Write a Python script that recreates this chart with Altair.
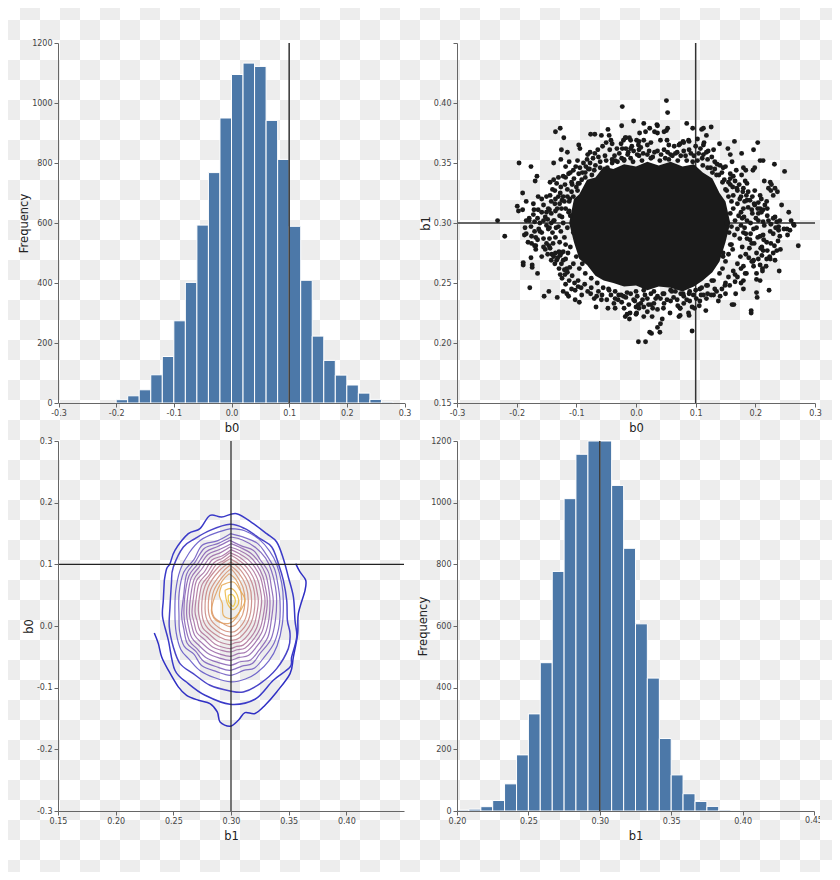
import altair as alt
import pandas as pd

alt.data_transformers.disable_max_rows()

# histogram b0
hist0_lo = [-0.20,-0.18,-0.16,-0.14,-0.12,-0.10,-0.08,-0.06,-0.04,-0.02,0.00,0.02,0.04,0.06,0.08,0.10,0.12,0.14,0.16,0.18,0.20,0.22,0.24,0.26]
hist0_hi = [-0.18,-0.16,-0.14,-0.12,-0.10,-0.08,-0.06,-0.04,-0.02,0.00,0.02,0.04,0.06,0.08,0.10,0.12,0.14,0.16,0.18,0.20,0.22,0.24,0.26,0.28]
hist0_n = [11,24,44,94,155,274,402,593,768,950,1095,1133,1122,942,812,589,409,223,142,93,60,33,12,3]

# histogram b1
hist1_lo = [0.2000,0.2083,0.2167,0.2250,0.2333,0.2417,0.2500,0.2583,0.2667,0.2750,0.2833,0.2917,0.3000,0.3083,0.3167,0.3250,0.3333,0.3417,0.3500,0.3583,0.3667,0.3750,0.3833,0.3917]
hist1_hi = [0.2083,0.2167,0.2250,0.2333,0.2417,0.2500,0.2583,0.2667,0.2750,0.2833,0.2917,0.3000,0.3083,0.3167,0.3250,0.3333,0.3417,0.3500,0.3583,0.3667,0.3750,0.3833,0.3917,0.4000]
hist1_n = [3,6,14,34,88,182,315,481,777,1013,1157,1200,1200,1056,852,607,431,235,117,56,31,15,3,1]

# scatter, readable points around the dense core (b0, b1)
scatter_b0 = [
-.232,-.135,-.127,-.121,-.076,-.069,-.058,-.047,-.024,-.045,-.042,-.050,-.096,-.094,-.125,-.115,-.126,-.098,-.138,-.112,-.118,-.196,-.176,-.166,-.169,-.144,-.138,-.130,-.122,-.113,-.105,-.094,-.084,-.077,-.081,-.077,-.069,-.063,-.190,-.184,-.199,-.190,-.197,-.171,-.164,-.158,-.144,-.136,-.127,-.119,-.108,-.097,-.179,-.179,-.172,-.158,-.152,-.145,-.136,-.124,-.111,-.161,-.150,-.138,-.124,-.113,-.035,-.024,-.013,-.007,-.018,-.011,.001,.004,-.021,
.085,.095,.110,.113,.126,.118,.103,.114,.113,.088,.079,.074,.140,.165,.204,.154,.158,.177,.197,.161,.208,.213,.232,.249,.168,.180,.184,.196,.199,.215,.225,.227,.233,.237,.222,.226,.230,.244,.256,.260,.264,.219,.208,.210,.199,.186,.183,.177,.163,.158,.146,.141,.132,.127,.121,.130,.118,.113,.188,.180,.169,.158,.208,.199,.220,.213,.205,.233,.236,.222,.241,.253,.239,.213,.194,.186,.174,.163,.152,
-.220,-.184,-.187,-.175,-.168,-.181,-.175,-.168,-.168,-.161,-.155,-.152,-.146,-.144,-.158,-.176,-.141,-.138,-.133,-.189,-.189,-.174,-.174,-.165,-.178,-.154,-.146,-.132,-.129,-.127,-.122,-.136,-.116,-.119,-.127,-.124,-.118,-.122,-.116,-.113,-.108,-.102,-.097,-.091,-.102,-.095,-.076,-.067,-.066,-.057,-.046,-.047,-.035,-.035,-.020,-.015,-.018,-.011,-.010,.001,.004,-.004,-.021,-.029,-.049,
.272,.240,.212,.223,.167,.180,.202,.203,.161,.164,.193,.193,.117,.094,.094,.088,.089,.074,.074,.107,.109,.120,.138,.118,.130,.132,.149,.166,.180,.202,.208,.202,.185,.197,.194,.180,.166,.155,.233,.225,.219,.236,.230,.213,.211,.205,.197,.241,.254,.248,.258,.230,.225,.213,.208,.202,.265,.239,.191,.194,.219,.211,.160,.146,.146,.127,.118,.107,.085,.096,.079,
.051,.053,-.023,-.004,.013,.035,.036,.023,.053,.047,.051,.006,.016,.031,.036,.041,.052,.055,.025,.013,.005,-.009,-.017,-.023,-.009,.005,.019,.036,.047,.064,.072,.080,.089,.066,.080,.089,.058,.019,.005,-.009,-.020,-.031,-.040,
.004,.016,.023,.026,.036,.040,.041,.044,.057,.072,.074,.013,.019,.025,.030,.036,.008,.047,.058,.069,.036,.019,.000,.013,.027,.000,.025,.047,.066,.080,.089,.041,.058,.013,-.009,.002,
-.155,-.150,-.147,-.142,-.140,-.135,-.133,-.128,-.126,-.122,-.118,-.115,-.112,-.110,-.107,-.104,-.101,-.098,-.096,-.091,-.088,-.085,-.082,-.078,-.074,-.072,-.068,-.064,-.060,-.056,-.052,-.048,-.044,-.040,-.036,-.032,-.028,-.025,-.017,-.014,
-.004,.002,.008,.012,.022,.028,.031,.042,.049,.053,.061,.069,.075,.083,.092,.097,.100,.105,.108,.111,
.120,.125,.132,.136,.139,.144,.148,.150,.155,.158,.162,.166,.170,.173,.176,.179,.182,.185,.188,.191,.195,.198,.201,.204,.170,.176,.181,.186,.192,.197,.205,.210,.215,.220,.226,.230,.234,.195,.205,.216,
.180,.186,.192,.198,.204,.209,.214,.220,.226,.232,.238,.242,.178,.184,.190,.196,.202,.208,.212,.218,.224,.175,.170,.176,.183,.189,.163,.170,.176,.150,.157,.144,.150,.135,.141,.126,.113,.101,.090,.080,.098,.106,
.070,.063,.052,.046,.033,.028,.021,.011,.005,-.002,-.012,-.017,-.024,-.030,-.037,-.042,
-.058,-.063,-.070,-.075,-.081,-.086,-.092,-.097,-.103,-.107,-.112,-.115,-.120,-.111,-.125,-.129,-.131,-.135,-.125,-.118,-.142,-.148,-.139,-.145,-.150,-.155,-.135,-.128,-.140,-.147,-.158,-.165,-.170,-.163,-.170,-.176,-.155,-.148,-.165,-.170,-.142,-.150,-.184,-.186,-.164,-.172,
-.105,-.110,-.115,-.118,-.120,-.122,-.126,-.128,-.130,-.132,-.110,-.114,-.118,-.122,-.128,-.134,-.137,-.142,-.145,-.105,-.108,-.112,-.115,-.120,-.125,-.130,-.135,-.100,-.095,-.090,-.085,-.080,-.070,-.060,-.050,-.040,-.100,-.105,-.095,-.090,-.085,-.075,-.065,-.055,-.045,-.035,-.025,-.015,
.152,.156,.158,.160,.163,.165,.166,.170,.172,.174,.176,.178,.180,.182,.184,.160,.155,.150,.145,.158,.162,.155,.150,.145,.140,.130,.120,.110,.135,.128,.120,.112,.103,.095,.085,.070,.055,.040,.025,.010,-.005,-.020,.000,.015,.030,.045,.060,.075,.090,.100,
]
scatter_b1 = [
.302,.376,.379,.371,.374,.374,.373,.378,.381,.373,.369,.367,.365,.362,.361,.359,.353,.352,.350,.351,.347,.350,.347,.339,.335,.334,.336,.338,.339,.341,.344,.346,.347,.350,.357,.359,.358,.355,.325,.318,.314,.311,.310,.311,.322,.320,.323,.327,.325,.332,.334,.333,.304,.302,.307,.309,.305,.311,.316,.319,.320,.300,.298,.302,.305,.309,.352,.354,.359,.364,.371,.371,.369,.365,.369,
.383,.379,.378,.379,.380,.373,.370,.367,.365,.369,.368,.366,.366,.368,.367,.362,.357,.358,.361,.351,.352,.352,.349,.343,.344,.346,.344,.344,.346,.335,.334,.332,.329,.326,.329,.327,.323,.315,.309,.302,.299,.318,.323,.320,.327,.333,.335,.340,.339,.341,.346,.348,.351,.355,.360,.361,.359,.357,.326,.329,.329,.332,.312,.315,.312,.311,.308,.305,.301,.302,.302,.295,.297,.301,.311,.319,.320,.323,.327,
.289,.291,.290,.289,.288,.284,.283,.281,.278,.293,.287,.278,.281,.279,.272,.271,.274,.272,.269,.267,.265,.265,.263,.258,.246,.239,.243,.238,.276,.273,.269,.266,.262,.257,.257,.254,.249,.243,.241,.239,.245,.244,.247,.240,.236,.234,.241,.230,.239,.240,.245,.229,.229,.237,.229,.224,.222,.220,.225,.225,.232,.236,.239,.240,.236,
.281,.260,.260,.244,.241,.245,.242,.238,.232,.232,.227,.225,.227,.210,.230,.225,.223,.229,.223,.235,.240,.241,.235,.237,.240,.245,.248,.251,.252,.253,.252,.258,.258,.264,.268,.264,.257,.255,.269,.270,.270,.277,.275,.277,.273,.270,.269,.289,.290,.295,.294,.291,.293,.290,.289,.296,.298,.294,.286,.283,.284,.280,.282,.275,.272,.252,.248,.245,.236,.240,.241,
.402,.392,.397,.385,.383,.382,.381,.379,.379,.376,.377,.375,.376,.376,.375,.369,.369,.365,.367,.369,.368,.369,.371,.362,.362,.361,.365,.360,.361,.364,.365,.367,.368,.358,.360,.361,.357,.357,.356,.354,.353,.351,.353,
.201,.201,.209,.208,.213,.209,.216,.220,.225,.222,.229,.230,.226,.232,.233,.228,.233,.233,.235,.236,.239,.237,.224,.222,.222,.230,.241,.241,.243,.239,.241,.237,.244,.244,.241,.239,
.315,.322,.312,.318,.328,.320,.333,.316,.330,.322,.338,.328,.318,.342,.332,.337,.347,.327,.341,.336,.350,.342,.353,.345,.340,.354,.348,.361,.351,.364,.356,.346,.361,.366,.356,.362,.358,.366,.362,.357,
.360,.357,.363,.358,.360,.355,.359,.357,.354,.359,.356,.359,.356,.356,.358,.356,.364,.358,.362,.354,
.353,.346,.345,.349,.340,.342,.336,.347,.334,.337,.330,.335,.327,.332,.322,.326,.318,.323,.313,.319,.308,.316,.304,.312,.316,.309,.305,.302,.300,.295,.302,.309,.298,.306,.299,.304,.296,.322,.317,.315,
.292,.287,.291,.283,.288,.279,.286,.277,.283,.281,.285,.278,.280,.274,.279,.268,.275,.265,.262,.264,.272,.272,.266,.262,.258,.271,.260,.255,.250,.250,.248,.245,.241,.243,.239,.240,.240,.237,.235,.233,.229,.231,
.231,.238,.236,.229,.237,.229,.232,.236,.229,.235,.232,.238,.234,.236,.233,.240,
.236,.243,.237,.246,.243,.249,.246,.252,.250,.256,.252,.259,.261,.263,.266,.262,.271,.275,.275,.270,.269,.274,.283,.287,.283,.280,.288,.284,.292,.295,.292,.286,.281,.295,.293,.297,.302,.303,.304,.301,.308,.309,.302,.296,.311,.316,
.292,.306,.296,.312,.288,.300,.293,.306,.297,.312,.280,.275,.282,.276,.275,.296,.302,.300,.296,.322,.326,.310,.322,.318,.312,.322,.310,.330,.333,.342,.338,.345,.344,.346,.352,.350,.272,.266,.262,.266,.258,.254,.250,.246,.244,.243,.240,.242,
.300,.292,.308,.297,.312,.290,.302,.295,.306,.287,.298,.304,.312,.296,.291,.318,.322,.328,.334,.282,.278,.274,.268,.262,.258,.252,.248,.246,.340,.342,.346,.348,.352,.351,.352,.352,.353,.352,.354,.352,.351,.352,.243,.240,.243,.241,.243,.241,.243,.244,
]

# outline of the solid black core of the scatter
core_b0 = [-.112,-.104,-.095,-.082,-.068,-.054,-.038,-.020,.000,.019,.038,.058,.078,.097,.112,.128,.140,.150,.158]
core_hi = [.300,.320,.324,.336,.338,.347,.345,.349,.347,.351,.348,.351,.347,.349,.342,.337,.325,.318,.300]
core_lo = [.300,.284,.270,.265,.256,.252,.250,.247,.248,.244,.247,.246,.243,.247,.252,.259,.268,.284,.300]

# contour lines (b1, b0), outermost first
c01_x = [.2335,.2370,.2399,.2457,.2543,.2615,.2717,.2818,.2881,.2905,.2991,.3064,.3121,.3208,.3295,.3396,.3512,.3541,.3578,.3584,.3642,.3648,.3598,.3561]
c01_y = [-.0113,-.0286,-.0502,-.0718,-.0988,-.1123,-.1204,-.1258,-.1393,-.1555,-.1626,-.1528,-.1404,-.1420,-.1285,-.1069,-.0772,-.0502,-.0124,.0200,.0579,.0741,.0876,.1011]
c02_x = [.2422,.2442,.2471,.2514,.2630,.2731,.2818,.2919,.3049,.3194,.3309,.3396,.3454,.3497,.3541,.3555,.3570,.3526,.3512,.3367,.3208,.2991,.2775,.2630,.2514,.2457,.2407,.2413,.2422]
c02_y = [.0741,.0930,.1011,.1227,.1497,.1578,.1794,.1767,.1821,.1659,.1497,.1362,.1092,.0795,.0471,.0092,-.0178,-.0502,-.0664,-.0880,-.1188,-.1269,-.1123,-.0934,-.0718,-.0232,.0146,.0417,.0741]
c03_x = [.2485,.2500,.2587,.2688,.2818,.2991,.3121,.3252,.3353,.3411,.3454,.3483,.3489,.3512,.3497,.3396,.3252,.3107,.2991,.2818,.2673,.2558,.2500,.2465,.2471,.2485]
c03_y = [.0741,.0957,.1281,.1416,.1551,.1648,.1578,.1416,.1281,.1011,.0741,.0417,.0092,-.0124,-.0367,-.0691,-.0934,-.1069,-.1053,-.0961,-.0772,-.0610,-.0340,-.0016,.0308,.0741]
c04_x = [.3000,.3118,.3245,.3335,.3395,.3440,.3454,.3445,.3400,.3330,.3230,.3125,.3000,.2860,.2730,.2640,.2565,.2525,.2514,.2520,.2560,.2635,.2735,.2870,.3000]
c04_y = [.1578,.1545,.1405,.1215,.1005,.0690,.0400,.0030,-.0320,-.0560,-.0750,-.0860,-.0907,-.0840,-.0720,-.0545,-.0380,-.0110,.0170,.0560,.0910,.1180,.1390,.1510,.1578]
c05_x = [.2995,.3125,.3230,.3295,.3375,.3405,.3425,.3420,.3375,.3290,.3205,.3110,.2995,.2875,.2745,.2680,.2595,.2555,.2549,.2550,.2590,.2680,.2750,.2880,.2995]
c05_y = [.1497,.1430,.1340,.1190,.0935,.0690,.0400,.0040,-.0270,-.0500,-.0680,-.0720,-.0799,-.0740,-.0640,-.0460,-.0330,-.0090,.0170,.0530,.0870,.1080,.1310,.1380,.1497]
c06_x = [.3000,.3100,.3215,.3300,.3350,.3385,.3396,.3385,.3345,.3250,.3185,.3095,.2990,.2890,.2765,.2695,.2620,.2590,.2572,.2590,.2615,.2690,.2770,.2890,.3000]
c06_y = [.1443,.1395,.1270,.1100,.0900,.0640,.0410,.0090,-.0220,-.0450,-.0610,-.0650,-.0718,-.0670,-.0575,-.0410,-.0280,-.0040,.0180,.0500,.0840,.1040,.1260,.1340,.1443]
c07_x = [.2990,.3090,.3195,.3255,.3325,.3350,.3367,.3350,.3320,.3240,.3170,.3080,.2995,.2885,.2785,.2700,.2640,.2605,.2592,.2600,.2635,.2705,.2785,.2885,.2990]
c07_y = [.1389,.1300,.1225,.1070,.0870,.0630,.0400,.0100,-.0180,-.0400,-.0550,-.0580,-.0637,-.0590,-.0515,-.0360,-.0240,-.0010,.0190,.0490,.0810,.0990,.1205,.1290,.1389]
c08_x = [.3000,.3085,.3175,.3245,.3300,.3325,.3338,.3330,.3295,.3220,.3150,.3070,.2990,.2900,.2805,.2725,.2660,.2630,.2615,.2625,.2655,.2725,.2800,.2900,.3000]
c08_y = [.1335,.1270,.1175,.1030,.0840,.0630,.0410,.0130,-.0130,-.0340,-.0480,-.0510,-.0556,-.0520,-.0450,-.0320,-.0190,.0010,.0200,.0490,.0780,.0960,.1160,.1240,.1335]
c09_x = [.2990,.3075,.3160,.3225,.3275,.3300,.3315,.3300,.3270,.3205,.3130,.3065,.2995,.2910,.2825,.2745,.2685,.2655,.2639,.2650,.2680,.2745,.2820,.2910,.2990]
c09_y = [.1281,.1225,.1130,.0990,.0810,.0610,.0400,.0140,-.0090,-.0280,-.0420,-.0445,-.0491,-.0460,-.0395,-.0270,-.0150,.0040,.0210,.0480,.0755,.0920,.1115,.1190,.1281]
c10_x = [.3000,.3070,.3145,.3205,.3255,.3280,.3295,.3280,.3250,.3190,.3120,.3055,.2990,.2920,.2840,.2770,.2705,.2680,.2662,.2675,.2700,.2770,.2835,.2925,.3000]
c10_y = [.1238,.1175,.1085,.0960,.0790,.0600,.0410,.0170,-.0050,-.0230,-.0360,-.0385,-.0421,-.0395,-.0340,-.0220,-.0110,.0060,.0220,.0470,.0730,.0880,.1070,.1140,.1238]
c11_x = [.2990,.3060,.3125,.3185,.3230,.3255,.3266,.3250,.3225,.3170,.3105,.3050,.2995,.2930,.2860,.2790,.2730,.2705,.2688,.2700,.2725,.2790,.2855,.2925,.2990]
c11_y = [.1189,.1130,.1040,.0920,.0760,.0580,.0400,.0180,-.0015,-.0190,-.0310,-.0330,-.0367,-.0345,-.0290,-.0175,-.0070,.0090,.0235,.0470,.0700,.0850,.1030,.1100,.1189]
c12_x = [.3000,.3055,.3110,.3165,.3205,.3225,.3237,.3225,.3200,.3150,.3090,.3040,.2990,.2935,.2875,.2810,.2755,.2730,.2717,.2725,.2750,.2810,.2870,.2935,.3000]
c12_y = [.1146,.1085,.1005,.0880,.0735,.0565,.0405,.0210,.0015,-.0140,-.0250,-.0270,-.0302,-.0280,-.0235,-.0130,-.0030,.0110,.0250,.0460,.0675,.0820,.0990,.1060,.1146]
c13_x = [.2990,.3095,.3180,.3208,.3175,.3075,.2995,.2895,.2780,.2746,.2775,.2885,.2990]
c13_y = [.1092,.0960,.0710,.0400,.0055,-.0190,-.0232,-.0175,.0010,.0265,.0650,.0945,.1092]
c14_x = [.3000,.3080,.3155,.3179,.3150,.3060,.2990,.2905,.2805,.2775,.2800,.2900,.3000]
c14_y = [.1038,.0915,.0680,.0410,.0090,-.0130,-.0167,-.0115,.0050,.0280,.0625,.0900,.1038]
c15_x = [.2990,.3065,.3130,.3150,.3125,.3050,.2995,.2920,.2830,.2803,.2825,.2915,.2990]
c15_y = [.0984,.0865,.0650,.0400,.0120,-.0070,-.0097,-.0055,.0090,.0290,.0595,.0850,.0984]
c16_x = [.3000,.3050,.3105,.3121,.3100,.3040,.2990,.2935,.2855,.2832,.2850,.2930,.3000]
c16_y = [.0930,.0815,.0620,.0405,.0180,.0020,-.0011,.0035,.0140,.0310,.0570,.0805,.0930]
c17_x = [.2985,.3040,.3080,.3093,.3075,.3020,.2975,.2900,.2850,.2830,.2860,.2920,.2985]
c17_y = [.0849,.0760,.0600,.0420,.0230,.0080,.0040,.0060,.0130,.0250,.0480,.0720,.0849]
c18_x = [.2919,.3020,.3078,.3121,.3064,.3006,.2934,.2925,.2899,.2919]
c18_y = [.0660,.0714,.0579,.0417,.0200,.0119,.0173,.0362,.0498,.0660]
c19_x = [.2948,.3006,.3055,.3064,.3020,.2977,.2957,.2948]
c19_y = [.0579,.0606,.0498,.0362,.0265,.0335,.0444,.0579]
c20_x = [.2977,.3014,.3038,.3020,.2991,.2977,.2977]
c20_y = [.0498,.0508,.0417,.0320,.0362,.0417,.0498]

contour_x = [c01_x,c02_x,c03_x,c04_x,c05_x,c06_x,c07_x,c08_x,c09_x,c10_x,c11_x,c12_x,c13_x,c14_x,c15_x,c16_x,c17_x,c18_x,c19_x,c20_x]
contour_y = [c01_y,c02_y,c03_y,c04_y,c05_y,c06_y,c07_y,c08_y,c09_y,c10_y,c11_y,c12_y,c13_y,c14_y,c15_y,c16_y,c17_y,c18_y,c19_y,c20_y]
contour_colors = ["#2f2fc4","#3a3ac8","#4a45c8","#5a4fc4","#6a55bf","#7658b9","#825cb3","#8d60ad","#9865a6","#a26aa0","#ac6f98","#b67590","#bf7c88","#c8837e","#d08a74","#d8926a","#df9c5e","#e6a850","#ecb640","#efc430"]

# tick labels
ticks_b0 = [-0.3,-0.2,-0.1,0.0,0.1,0.2,0.3]
ticks_freq = [0,200,400,600,800,1000,1200]
ticks_b1_v = [0.15,0.20,0.25,0.30,0.35,0.40,0.45]
ticks_b1_v_lab = [0.15,0.20,0.25,0.30,0.35,0.40]
ticks_b1_h = [0.20,0.25,0.30,0.35,0.40,0.45]

W, H = 824, 864
INK, LABEL, TITLE = "#666666", "#444444", "#222222"
BAR = "#4c78a8"
FONT = "DejaVu Sans"

def axis(title, orient, offset, values, fmt, hide=None, title_pad=None):
    expr = "replace(datum.label,'\u2212','-')"
    if hide is not None:
        expr = "(" + " || ".join(f"abs(datum.value-{h})<0.001" for h in hide) + ") ? '' : " + expr
    kw = dict(title=title, orient=orient, offset=offset, values=values, format=fmt, grid=False,
              zindex=1, labelExpr=expr, labelFont=FONT, labelFontSize=8, labelColor=LABEL,
              titleFont=FONT, titleFontSize=11.5, titleFontWeight="normal", titleColor=TITLE,
              domainColor=INK, tickColor=INK, domainWidth=1, tickWidth=1, tickSize=4,
              labelPadding=2, labelOverlap=False, labelFlush=False, labelBound=False)
    if title_pad is not None:
        kw["titlePadding"] = title_pad
    return alt.Axis(**kw)

def sx(dom, rng):
    return alt.Scale(domain=dom, range=rng, nice=False, zero=False)

# panel geometry: plot-area ranges in the single canvas
P1X, P1Y = sx([-0.3,0.3],[50.5,396.5]), sx([0,1200],[395,35])
P2X, P2Y = sx([-0.3,0.3],[449,807]), sx([0.15,0.45],[395,35])
P3X, P3Y = sx([0.15,0.45],[50,396]), sx([-0.3,0.3],[803,433])
P4X, P4Y = sx([0.20,0.45],[449,806]), sx([0,1200],[803,433])

one = pd.DataFrame({"a":[0]})

def vrule(val, xs, ys, d0, d1, color="#333333", w=1.5):
    return alt.Chart(one).mark_rule(color=color, strokeWidth=w).encode(
        x=alt.X(datum=val, scale=xs, axis=None),
        y=alt.Y(datum=d0, scale=ys, axis=None), y2=alt.Y2(datum=d1))

def hrule(val, xs, ys, d0, d1, color="#333333", w=1.5):
    return alt.Chart(one).mark_rule(color=color, strokeWidth=w).encode(
        y=alt.Y(datum=val, scale=ys, axis=None),
        x=alt.X(datum=d0, scale=xs, axis=None), x2=alt.X2(datum=d1))

# checker backdrop
cols, rows = 42, 44
cells = pd.DataFrame([{"c":c,"c2":c+1,"r":r,"r2":r+1} for c in range(cols) for r in range(rows) if (c+r)%2==1])
CX = sx([0,cols],[-8,832])
CY = sx([0,rows],[-8,872])
def checker(df, color):
    return alt.Chart(df).mark_rect(color=color, strokeWidth=0).encode(
        x=alt.X("c:Q", scale=CX, axis=None), x2="c2:Q",
        y=alt.Y("r:Q", scale=CY, axis=None), y2="r2:Q")
back = checker(cells, "#ededed")

# panel 1
d1 = pd.DataFrame({"lo":hist0_lo,"hi":hist0_hi,"n":hist0_n})
p1 = alt.Chart(d1).mark_rect(color=BAR, stroke="#ffffff", strokeWidth=1).encode(
    x=alt.X("lo:Q", scale=P1X, axis=axis("b0","bottom",395-H,ticks_b0,".1f",title_pad=5)),
    x2="hi:Q",
    y=alt.Y("n:Q", scale=P1Y, axis=axis("Frequency","left",-50,ticks_freq,"d",title_pad=2)),
    y2=alt.Y2(datum=0))
r1 = vrule(0.1, P1X, P1Y, 0, 1200)

# panel 2
d2 = pd.DataFrame({"b0":scatter_b0,"b1":scatter_b1})
dc = pd.DataFrame({"b0":core_b0,"hi":core_hi,"lo":core_lo})
r2a = vrule(0.1, P2X, P2Y, 0.15, 0.45)
r2b = hrule(0.30, P2X, P2Y, -0.3, 0.3)
p2 = alt.Chart(d2).mark_circle(color="#1a1a1a", opacity=1, size=24).encode(
    x=alt.X("b0:Q", scale=P2X, axis=axis("b0","bottom",395-H,ticks_b0,".1f",title_pad=5)),
    y=alt.Y("b1:Q", scale=P2Y, axis=axis("b1","left",-449,ticks_b1_v,".2f",hide=[0.45],title_pad=2)))
core = alt.Chart(dc).mark_area(color="#1a1a1a", interpolate="linear").encode(
    x=alt.X("b0:Q", scale=P2X, axis=None),
    y=alt.Y("hi:Q", scale=P2Y, axis=None), y2="lo:Q")

# panel 3
recs = []
for lv,(xs,ys) in enumerate(zip(contour_x,contour_y)):
    for i,(a,b) in enumerate(zip(xs,ys)):
        recs.append({"b1":a,"b0":b,"lev":lv,"i":i})
d3 = pd.DataFrame(recs)
colr = alt.Color("lev:O", scale=alt.Scale(domain=list(range(len(contour_colors))), range=contour_colors), legend=None)
p3a = alt.Chart(d3[d3.lev<3]).mark_line(strokeWidth=1.5, interpolate="cardinal").encode(
    x=alt.X("b1:Q", scale=P3X, axis=axis("b1","bottom",803-H,ticks_b1_v_lab,".2f",title_pad=5)),
    y=alt.Y("b0:Q", scale=P3Y, axis=axis("b0","left",-50,ticks_b0,".1f",title_pad=2)),
    color=colr, order="i:Q")
p3b = alt.Chart(d3[d3.lev>=3]).mark_line(strokeWidth=1.2, opacity=0.85, interpolate="cardinal").encode(
    x=alt.X("b1:Q", scale=P3X, axis=None), y=alt.Y("b0:Q", scale=P3Y, axis=None),
    color=colr, order="i:Q")
r3a = vrule(0.30, P3X, P3Y, -0.3, 0.3, color="#222222", w=1.2)
r3b = hrule(0.1, P3X, P3Y, 0.15, 0.45, color="#222222", w=1.2)

# panel 4
d4 = pd.DataFrame({"lo":hist1_lo,"hi":hist1_hi,"n":hist1_n})
p4 = alt.Chart(d4).mark_rect(color=BAR, stroke="#ffffff", strokeWidth=1).encode(
    x=alt.X("lo:Q", scale=P4X, axis=axis("b1","bottom",803-H,ticks_b1_h,".2f",hide=[0.45],title_pad=5)),
    x2="hi:Q",
    y=alt.Y("n:Q", scale=P4Y, axis=axis("Frequency","left",-449,ticks_freq,"d",title_pad=2)),
    y2=alt.Y2(datum=0))
r4 = vrule(0.30, P4X, P4Y, 0, 1200)

# the last tick label runs off the picture's edge
last_label = alt.Chart(pd.DataFrame({"t":["0.45"]})).mark_text(fontSize=8, font=FONT, color=LABEL, baseline="top", align="center").encode(
    x=alt.X(datum=0.45, scale=P4X, axis=None), y=alt.value(809), text="t:N")
cover_g = checker(pd.DataFrame({"c":[41],"c2":[42],"r":[40],"r2":[41]}), "#ededed")
cover_w = checker(pd.DataFrame({"c":[41],"c2":[42],"r":[41],"r2":[42]}), "#ffffff")

chart = alt.layer(back, p1, r1, r2a, r2b, core, p2, p3a, p3b, r3a, r3b, p4, r4, last_label, cover_g, cover_w).resolve_scale(
    x="independent", y="independent", color="shared"
).properties(width=W, height=H, padding=0, autosize=alt.AutoSizeParams(type="none")
).configure_view(stroke=None)

chart.save("out.html", embed_options={"renderer": "svg", "actions": False})
